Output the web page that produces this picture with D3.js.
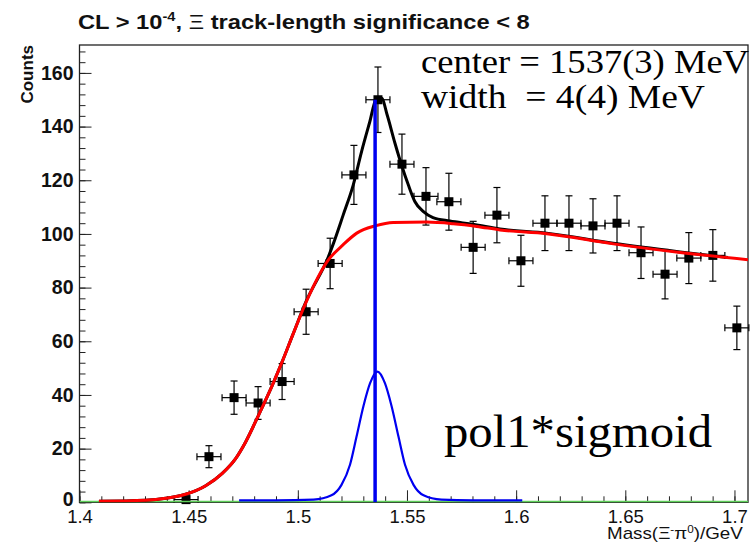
<!DOCTYPE html>
<html>
<head>
<meta charset="utf-8">
<script src="https://cdn.jsdelivr.net/npm/d3@7"></script>
<style>
  body { margin: 0; background: #fff; }
  svg { display: block; }
</style>
</head>
<body>
<script>
// histogram bins (mass in GeV, counts, stat. error)
const binMass = [1.4488, 1.4593, 1.4708, 1.4818, 1.4928, 1.5038, 1.5148, 1.5257, 1.5367,
  1.5477, 1.5587, 1.5692, 1.5803, 1.5912, 1.6022, 1.6132, 1.6242, 1.6352, 1.6462,
  1.6572, 1.6682, 1.6791, 1.6901, 1.7011];
const binCounts = [1, 17, 39, 37, 45, 71, 89, 122, 150,
  126, 114, 112, 95, 107, 90, 104, 104, 103, 104,
  93, 85, 91, 92, 65];
const binErrors = [1, 4.1, 6.2, 6.1, 6.7, 8.4, 9.4, 11, 12.2,
  11.2, 10.7, 10.6, 9.7, 10.3, 9.5, 10.2, 10.2, 10.1, 10.2,
  9.6, 9.2, 9.5, 9.6, 8.1];
const binHalfWidth = 0.0055;

// background fit (pol1*sigmoid)
const bgMass = [1.4089, 1.4303, 1.4395, 1.4486, 1.4578, 1.4654, 1.4716, 1.4761, 1.4822, 1.4883,
  1.4929, 1.4975, 1.5036, 1.514, 1.5208, 1.527, 1.5354, 1.5437, 1.559, 1.5712,
  1.582, 1.5926, 1.614, 1.6445, 1.6751, 1.7062];
const bgCounts = [0.4, 0.8, 1.5, 3.0, 6.2, 10.8, 16.4, 22.5, 32.8, 43.6,
  52.5, 62, 74.2, 90.3, 96, 100.3, 103, 104.3, 104.4, 103.8,
  102.8, 101.5, 100.1, 96.3, 93.1, 90.4];

// total fit (black curve)
const totalMass = [1.4089, 1.4303, 1.4395, 1.4486, 1.4578, 1.4654, 1.4716, 1.4761, 1.4822, 1.4883,
  1.4929, 1.4975, 1.5036, 1.514, 1.5162, 1.5208, 1.5254, 1.5292, 1.533, 1.5358,
  1.5384, 1.5409, 1.5445, 1.5475, 1.5506, 1.5536, 1.5574, 1.5619, 1.5696, 1.5803,
  1.5926, 1.614, 1.6445, 1.6751, 1.697];
const totalCounts = [0.4, 0.8, 1.5, 3.0, 6.2, 10.8, 16.4, 22.5, 32.8, 43.6,
  52.5, 62, 74.5, 91.5, 96.2, 107.1, 118.3, 130.7, 141.9, 150,
  150.6, 144.4, 133.8, 125.7, 118.3, 112.1, 108.4, 106.1, 104.8, 103.6,
  101.8, 100.3, 96.5, 93.3, 91.2];

// signal gaussian (blue curve)
const sigMass = [1.4731, 1.49, 1.5072, 1.5154, 1.52, 1.5239, 1.5269, 1.5301, 1.5331, 1.5365,
  1.5399, 1.5429, 1.5461, 1.5491, 1.553, 1.5576, 1.5658, 1.58, 1.6028];
const sigCounts = [0.7, 0.7, 1.0, 2.6, 6.5, 14, 24.5, 36, 44.4, 48.7,
  44.4, 36, 24.5, 14, 6.5, 2.6, 1.0, 0.7, 0.7];

const peakMass = 1.5354;
const peakLineTop = 150;

const xTickValues = [1.4, 1.45, 1.5, 1.55, 1.6, 1.65, 1.7];
const xTickLabels = ["1.4", "1.45", "1.5", "1.55", "1.6", "1.65", "1.7"];
const yTickValues = [0, 20, 40, 60, 80, 100, 120, 140, 160];
const yTickLabels = ["0", "20", "40", "60", "80", "100", "120", "140", "160"];

const fitLines = ["center = 1537(3) MeV", "width  = 4(4) MeV"];
const modelLabel = "pol1*sigmoid";

const W = 755, H = 543;
const frame = { left: 79.5, right: 748, top: 45, bottom: 502.3 };
const sans = "'Liberation Sans', Arial, Helvetica, sans-serif";
const serif = "'Liberation Serif', 'Times New Roman', serif";

const svg = d3.select("body").append("svg").attr("width", W).attr("height", H);

const x = d3.scaleLinear().domain([1.4, 1.7062]).range([frame.left, frame.right]);
const y = d3.scaleLinear().domain([0, 170.4]).range([frame.bottom, frame.top]);

svg.append("clipPath").attr("id", "plot")
  .append("rect")
  .attr("x", frame.left).attr("y", frame.top)
  .attr("width", frame.right - frame.left).attr("height", frame.bottom - frame.top);

// frame
svg.append("rect")
  .attr("x", frame.left).attr("y", frame.top)
  .attr("width", frame.right - frame.left).attr("height", frame.bottom - frame.top)
  .attr("fill", "none").attr("stroke", "#222").attr("stroke-width", 1.3);

// axes, ticks inside the frame
const gx = svg.append("g").attr("transform", `translate(0,${frame.bottom})`);
gx.append("g").call(d3.axisBottom(x).tickValues(d3.range(1.40, 1.7051, 0.01)).tickSize(-6).tickFormat(""));
gx.append("g").call(d3.axisBottom(x).tickValues(xTickValues)
  .tickFormat((d, i) => xTickLabels[i]).tickSize(-12).tickPadding(8));
gx.selectAll(".domain").remove();
gx.selectAll("line").attr("stroke", "#222");
gx.selectAll("text").attr("font-family", sans).attr("font-size", 18.5).attr("fill", "#111");

const gy = svg.append("g").attr("transform", `translate(${frame.left},0)`);
gy.append("g").call(d3.axisLeft(y).tickValues(d3.range(0, 170, 4)).tickSize(-6).tickFormat(""));
gy.append("g").call(d3.axisLeft(y).tickValues(yTickValues)
  .tickFormat((d, i) => yTickLabels[i]).tickSize(-12).tickPadding(6));
gy.selectAll(".domain").remove();
gy.selectAll("line").attr("stroke", "#222");
gy.selectAll("text").attr("font-family", sans).attr("font-size", 19.5)
  .attr("font-weight", "bold").attr("fill", "#111");
gy.selectAll("text").filter((d) => d === 0).attr("dy", "0.15em");

// data points with error bars
const bins = d3.zip(binMass, binCounts, binErrors);
const gp = svg.append("g").attr("stroke", "#000").attr("stroke-width", 1.2);
bins.forEach(([m, c, e]) => {
  const cx = x(m), cy = y(c);
  const x0 = x(m - binHalfWidth), x1 = x(m + binHalfWidth);
  const y0 = y(c - e), y1 = y(c + e);
  gp.append("line").attr("x1", x0).attr("x2", x1).attr("y1", cy).attr("y2", cy);
  gp.append("line").attr("x1", x0).attr("x2", x0).attr("y1", cy - 3.5).attr("y2", cy + 3.5);
  gp.append("line").attr("x1", x1).attr("x2", x1).attr("y1", cy - 3.5).attr("y2", cy + 3.5);
  gp.append("line").attr("x1", cx).attr("x2", cx).attr("y1", y0).attr("y2", y1);
  gp.append("line").attr("x1", cx - 3.5).attr("x2", cx + 3.5).attr("y1", y0).attr("y2", y0);
  gp.append("line").attr("x1", cx - 3.5).attr("x2", cx + 3.5).attr("y1", y1).attr("y2", y1);
  gp.append("rect").attr("x", cx - 4.5).attr("y", cy - 4.5).attr("width", 9).attr("height", 9)
    .attr("fill", "#000").attr("stroke", "none");
});

// fit curves
const line = d3.line()
  .x((d) => x(d[0]))
  .y((d) => y(d[1]))
  .curve(d3.curveMonotoneX);

const gc = svg.append("g").attr("clip-path", "url(#plot)").attr("fill", "none");

// zero line
gc.append("line")
  .attr("x1", frame.left).attr("x2", frame.right)
  .attr("y1", y(0)).attr("y2", y(0))
  .attr("stroke", "#5fcf5a").attr("stroke-width", 3);

gc.append("path").attr("d", line(d3.zip(totalMass, totalCounts)))
  .attr("stroke", "#000").attr("stroke-width", 3);
gc.append("path").attr("d", line(d3.zip(bgMass, bgCounts)))
  .attr("stroke", "#f00").attr("stroke-width", 3);
gc.append("path").attr("d", line(d3.zip(sigMass, sigCounts)))
  .attr("stroke", "#0000f0").attr("stroke-width", 2.2);

gc.append("line")
  .attr("x1", x(peakMass)).attr("x2", x(peakMass))
  .attr("y1", y(0)).attr("y2", y(peakLineTop))
  .attr("stroke", "#0000f0").attr("stroke-width", 3.5);

// title, stretched horizontally to the width it has in the original
const title = svg.append("text")
  .attr("font-family", sans).attr("font-size", 21).attr("font-weight", "bold").attr("fill", "#111");
title.append("tspan").text("CL > 10");
title.append("tspan").attr("dy", -8).attr("font-size", 13).text("-4");
title.append("tspan").attr("dy", 8).text(", ");
title.append("tspan").attr("font-weight", "normal").text("Ξ");
title.append("tspan").text(" track-length significance < 8");
const titleLen = title.node().getComputedTextLength();
title.attr("transform", `translate(78,29) scale(${452 / titleLen},1)`);

// axis titles
svg.append("text")
  .attr("transform", "translate(33,45) rotate(-90)")
  .attr("text-anchor", "end")
  .attr("font-family", sans).attr("font-size", 17).attr("font-weight", "bold").attr("fill", "#111")
  .text("Counts");

const xt = svg.append("text")
  .attr("font-family", sans).attr("font-size", 16).attr("fill", "#111");
xt.append("tspan").text("Mass(Ξ");
xt.append("tspan").attr("dy", -6).attr("font-size", 10).text("-");
xt.append("tspan").attr("dy", 6).text("π");
xt.append("tspan").attr("dy", -6).attr("font-size", 10).text("0");
xt.append("tspan").attr("dy", 6).text(")/GeV");
const xtLen = xt.node().getComputedTextLength();
xt.attr("transform", `translate(607,539) scale(${136 / xtLen},1)`);

// fit result text
svg.selectAll("text.fit")
  .data(fitLines)
  .join("text")
  .attr("class", "fit")
  .attr("x", 421).attr("y", (d, i) => 73 + i * 35)
  .attr("font-family", serif).attr("font-size", 33).attr("fill", "#000")
  .style("white-space", "pre")
  .attr("textLength", (d, i) => [328, 284][i])
  .attr("lengthAdjust", "spacingAndGlyphs")
  .text((d) => d);

svg.append("text")
  .attr("x", 444).attr("y", 447)
  .attr("font-family", serif).attr("font-size", 46).attr("fill", "#000")
  .attr("textLength", 268).attr("lengthAdjust", "spacingAndGlyphs")
  .text(modelLabel);
</script>
</body>
</html>
